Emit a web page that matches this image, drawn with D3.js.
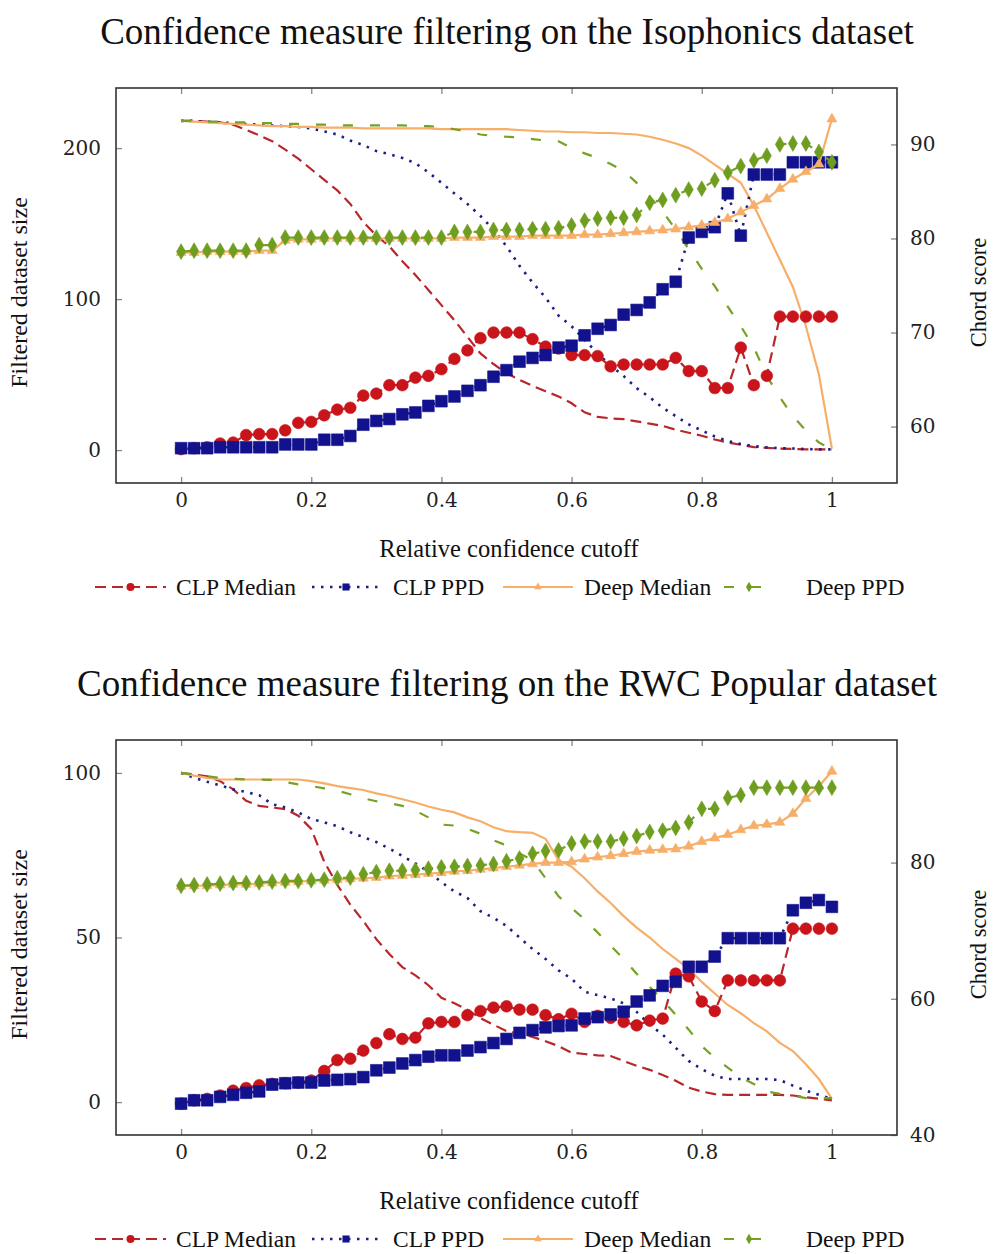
<!DOCTYPE html>
<html><head><meta charset="utf-8">
<script src="https://cdn.jsdelivr.net/npm/d3@7"></script>
<style>body{margin:0;background:#fff}svg{display:block}</style>
</head><body>
<svg id="c" width="994" height="1254"></svg>
<script>
// ---------- data ----------
const cutoffs = [0,0.02,0.04,0.06,0.08,0.1,0.12,0.14,0.16,0.18,0.2,0.22,0.24,0.26,0.28,0.3,0.32,0.34,0.36,0.38,0.4,0.42,0.44,0.46,0.48,0.5,0.52,0.54,0.56,0.58,0.6,0.62,0.64,0.66,0.68,0.7,0.72,0.74,0.76,0.78,0.8,0.82,0.84,0.86,0.88,0.9,0.92,0.94,0.96,0.98,1];
const xTickValues = [0,0.2,0.4,0.6,0.8,1];
const seriesNames = ["CLP Median","CLP PPD","Deep Median","Deep PPD"];
const titles = ["Confidence measure filtering on the Isophonics dataset","Confidence measure filtering on the RWC Popular dataset"];
const xLabel = "Relative confidence cutoff";
const yLeftLabel = "Filtered dataset size";
const yRightLabel = "Chord score";

// Isophonics: filtered dataset size (left axis)
const isoClpMedianSize = [218,218,217.5,217,215.5,212,208.5,204.6,199,193,186,179,172,163,151,142,135,125,116,106,96,86,75,64,57,51,46.5,42.5,39,35.5,31,25,22,21,20.5,19,17.5,16,13.5,11.5,9.5,7,5,3.5,2,1.5,1,0.8,0.5,0.5,0.5];
const isoClpPpdSize = [218,218,217.5,217,216.5,216,215.5,215,214.5,214,213,211,209,205,202,198,196,193.5,190,184,177,170,163,155,146,135,122,111,101,89,82,73,64,56,49,41,35,28,22.5,17,13,9,6,4,2.6,1.8,1.2,1,0.7,0.5,0.5];
const isoDeepMedianSize = [218,217.5,217,216.5,216,215.5,215,214.5,214.5,214,214,213.5,213.5,213.5,213,213,213,213,213,213,212.5,212.5,212.5,212.5,212.5,212.5,212,211.5,211,211,210.5,210.5,210,210,209.5,209,207.5,205.5,203,200,195,189,183,177,162,144,126,108,82,50,1];
const isoDeepPpdSize = [218,218,217.5,217.5,217,217,216.5,216.5,216,216,215.5,215.5,215,215,215,215,215,215,214.5,214.5,214,212.5,211,209,208,207.5,207,206,205,204.5,200,196.5,193.5,189.5,185,177,168,158,146,133,120,108.6,95,82,68,49,35,22.5,13,5,0.5];
// Isophonics: chord score (right axis)
const isoClpMedianScore = [57.6,57.7,57.8,58.2,58.3,59.1,59.2,59.2,59.6,60.4,60.5,61.2,61.8,62.0,63.3,63.5,64.4,64.4,65.2,65.4,66.1,67.2,68.1,69.4,70.0,70.0,70.0,69.3,68.5,68.3,67.6,67.6,67.5,66.4,66.6,66.6,66.6,66.6,67.3,65.9,65.9,64.1,64.1,68.4,64.4,65.4,71.7,71.7,71.7,71.7,71.7];
const isoClpPpdScore = [57.7,57.7,57.7,57.8,57.8,57.8,57.8,57.8,58.1,58.1,58.1,58.6,58.6,59.0,60.2,60.6,60.8,61.3,61.5,62.2,62.7,63.2,63.8,64.4,65.3,66.0,66.9,67.3,67.6,68.4,68.6,69.7,70.4,70.8,71.9,72.4,73.2,74.6,75.4,80.1,80.7,81.2,84.8,80.3,86.8,86.8,86.8,88.1,88.1,88.1,88.1];
const isoDeepMedianScore = [78.5,78.5,78.6,78.6,78.6,78.6,78.7,78.7,79.8,79.9,79.9,80.0,80.0,80.0,80.0,80.0,80.0,80.0,80.0,80.0,80.0,80.1,80.1,80.1,80.2,80.2,80.2,80.3,80.3,80.3,80.3,80.4,80.4,80.5,80.6,80.7,80.8,80.9,81.0,81.2,81.4,81.7,82.1,82.8,83.5,84.2,85.3,86.3,87.1,87.9,92.7];
const isoDeepPpdScore = [78.6,78.7,78.7,78.7,78.7,78.7,79.3,79.3,80.1,80.1,80.1,80.1,80.1,80.1,80.1,80.1,80.1,80.1,80.1,80.1,80.1,80.7,80.7,80.7,80.9,80.9,80.9,81.0,81.0,81.1,81.4,81.9,82.1,82.2,82.2,82.5,83.8,84.1,84.6,85.2,85.3,86.2,87.0,87.7,88.3,88.8,90.0,90.1,90.1,89.2,88.1];

// RWC Popular: filtered dataset size (left axis)
const rwcClpMedianSize = [100,99.5,99,97.5,95,91.5,90,89.5,89,87,83,73,66,60,55,49.5,45,41,38.5,35.5,31.7,30,28,25.5,23.5,21.6,20.8,19.8,18.5,17,15,14.6,14.2,14,12.5,11,9.8,8.2,6.5,4.4,3.2,2.4,2.2,2.2,2.2,2.2,2.2,2,1.5,1,0.5];
const rwcClpPpdSize = [100,98.5,97.3,96.2,95,94.2,93.2,90.5,89.5,88,86,85,83.8,82,80.5,79,77,74.8,72.5,70,66.8,64,62,58,56,53.5,50,46.5,43.5,40,37.5,33.5,32.5,31.5,30,27.4,23.5,20.5,16.5,12.5,10,8,7,7,7,7,6.7,5,3.5,2.2,1];
const rwcDeepMedianSize = [100,99.2,98.5,98,98,98,98,98,98,98,97.5,96.8,96,95.4,94.8,93.8,93,92,91,89.8,88.8,88,86.5,85.3,83.5,82.3,82,81.8,80,73.5,71.5,68,64,60.5,56.5,53,50,46.5,43.5,40.5,36.5,33,29.5,27,24,21.5,18,15.5,11.5,7,1];
const rwcDeepPpdSize = [100,99.5,99,98.5,98.2,98,98,97.9,97.2,96.5,96,95.3,94.6,93.5,92.3,91.4,90.8,90,88.5,86.5,84.3,84,83,81.5,79.5,78,75.5,73.5,68,62.5,59,55.5,51.5,47.5,43.5,39,35,31,26.5,22,17,13.5,10.5,7.5,5.5,3.2,2.5,2,1.2,1.2,1.2];
// RWC Popular: chord score (right axis)
const rwcClpMedianScore = [44.6,45.1,45.3,45.8,46.5,46.9,47.3,47.5,47.6,47.7,48.0,49.4,51.0,51.2,52.4,53.5,54.8,54.1,54.3,56.4,56.6,56.6,57.6,58.2,58.7,58.9,58.4,58.4,57.6,57.0,57.8,56.6,57.5,57.2,56.6,56.1,56.8,57.1,63.7,63.3,59.6,58.2,62.7,62.7,62.7,62.7,62.7,70.3,70.3,70.3,70.3];
const rwcClpPpdScore = [44.6,45.1,45.1,45.6,45.9,46.2,46.4,47.4,47.6,47.7,47.7,48.0,48.1,48.2,48.5,49.5,49.9,50.5,51.0,51.5,51.7,51.7,52.4,52.9,53.5,54.1,55.0,55.4,55.8,56.0,56.1,57.1,57.3,57.7,58.1,59.6,60.5,61.9,62.5,64.7,64.7,66.2,68.9,68.9,68.9,68.9,68.9,73.0,74.1,74.5,73.5];
const rwcDeepMedianScore = [76.5,76.6,76.6,76.7,76.8,76.8,76.9,77.0,77.1,77.2,77.3,77.4,77.5,77.6,77.7,77.8,78.0,78.1,78.2,78.4,78.5,78.7,78.8,79.0,79.2,79.4,79.6,79.8,80.0,80.0,80.1,80.5,80.8,81.0,81.3,81.6,81.8,81.9,82.0,82.4,83.1,83.6,84.1,84.8,85.4,85.6,85.9,87.2,89.4,91.2,93.4];
const rwcDeepPpdScore = [76.6,76.7,76.8,76.9,77.0,77.0,77.1,77.2,77.3,77.3,77.4,77.5,77.7,77.8,78.3,78.6,78.8,78.8,78.9,79.1,79.3,79.4,79.5,79.6,79.8,80.2,80.6,81.3,81.7,81.8,82.8,83.1,83.1,83.1,83.5,83.9,84.5,84.7,85.1,85.9,87.9,87.9,89.5,89.9,91.0,91.0,91.0,91.0,91.0,91.0,91.0];

const isoLeftTicks = [0,100,200];
const isoRightTicks = [60,70,80,90];
const rwcLeftTicks = [0,50,100];
const rwcRightTicks = [40,60,80];

// ---------- styles ----------
const styles = [
  {line:"#b8272c", mark:"#c8141a", dash:"11,6", width:2.2, sym:d3.symbolCircle, size:108, lsize:50},
  {line:"#1e1e86", mark:"#12128f", dash:"2.5,6.5", width:2.6, sym:d3.symbolSquare, size:138, lsize:50},
  {line:"#f6ae68", mark:"#f6ae68", dash:null, width:2.2, sym:d3.symbolTriangle, size:44, lsize:26},
  {line:"#76a125", mark:"#6f9d1f", dash:"10,17", width:2.2, sym:d3.symbolDiamond, size:72, lsize:32}
];

const svg = d3.select("#c");
const serif = "'Liberation Serif','Times New Roman',serif";
const tickFont = "'DejaVu Serif',serif";

function panel(cfg) {
  const X0 = 116, X1 = 897;
  const x = d3.scaleLinear().domain([-0.1, 1.1]).range([X0, X1]);
  const yL = d3.scaleLinear().domain(cfg.leftDomain).range([cfg.y1, cfg.y0]);
  const yR = d3.scaleLinear().domain(cfg.rightDomain).range([cfg.y1, cfg.y0]);
  const g = svg.append("g");

  g.append("text").attr("x", 507).attr("y", cfg.titleY)
    .attr("text-anchor", "middle").attr("font-family", serif).attr("font-size", 37)
    .attr("fill", "#111").text(cfg.title);

  const plot = g.append("g");
  // size lines (left axis)
  cfg.sizes.forEach((arr, k) => {
    const st = styles[k];
    const line = d3.line().x((d, i) => x(cutoffs[i])).y(d => yL(d));
    plot.append("path").attr("d", line(arr)).attr("fill", "none")
      .attr("stroke", st.line).attr("stroke-width", st.width)
      .attr("stroke-dasharray", st.dash);
  });
  // score series (right axis) with markers
  cfg.scores.forEach((arr, k) => {
    const st = styles[k];
    const line = d3.line().x((d, i) => x(cutoffs[i])).y(d => yR(d));
    plot.append("path").attr("d", line(arr)).attr("fill", "none")
      .attr("stroke", st.line).attr("stroke-width", st.width)
      .attr("stroke-dasharray", st.dash);
    const sym = d3.symbol().type(st.sym).size(st.size);
    plot.append("g").selectAll("path").data(arr).join("path")
      .attr("transform", (d, i) => `translate(${x(cutoffs[i])},${yR(d)})`)
      .attr("d", sym).attr("fill", st.mark).attr("stroke", st.mark).attr("stroke-width", 0.6);
  });

  // axes
  const fmt = d3.format("~g");
  const ax = g.append("g").attr("transform", `translate(0,${cfg.y1})`)
    .call(d3.axisBottom(x).tickValues(xTickValues).tickSize(-6).tickPadding(10).tickFormat(fmt));
  const axT = g.append("g").attr("transform", `translate(0,${cfg.y0})`)
    .call(d3.axisTop(x).tickValues(xTickValues).tickSize(-6).tickFormat(""));
  const ayL = g.append("g").attr("transform", `translate(${X0},0)`)
    .call(d3.axisLeft(yL).tickValues(cfg.leftTicks).tickSize(-6).tickPadding(15).tickFormat(fmt));
  const ayR = g.append("g").attr("transform", `translate(${X1},0)`)
    .call(d3.axisRight(yR).tickValues(cfg.rightTicks).tickSize(-6).tickPadding(13).tickFormat(fmt));
  [ax, axT, ayL, ayR].forEach(a => {
    a.select(".domain").remove();
    a.selectAll(".tick line").attr("stroke", "#888").attr("stroke-width", 1.3);
    a.selectAll(".tick text").attr("font-family", tickFont).attr("font-size", 20).attr("fill", "#222");
  });

  g.append("rect").attr("x", X0).attr("y", cfg.y0).attr("width", X1 - X0).attr("height", cfg.y1 - cfg.y0)
    .attr("fill", "none").attr("stroke", "#333").attr("stroke-width", 1.6);

  // axis titles
  g.append("text").attr("x", 509).attr("y", cfg.y1 + 74).attr("text-anchor", "middle")
    .attr("font-family", serif).attr("font-size", 24.5).attr("fill", "#111").text(xLabel);
  const cy = (cfg.y0 + cfg.y1) / 2 + 7;
  g.append("text").attr("transform", `translate(27,${cy}) rotate(-90)`).attr("text-anchor", "middle")
    .attr("font-family", serif).attr("font-size", 24).attr("fill", "#111").text(yLeftLabel);
  g.append("text").attr("transform", `translate(986,${cy}) rotate(-90)`).attr("text-anchor", "middle")
    .attr("font-family", serif).attr("font-size", 22.5).attr("fill", "#111").text(yRightLabel);

  // legend
  const ly = cfg.y1 + 104;
  const entries = [
    {x0: 95, x1: 166, tx: 176},
    {x0: 312, x1: 380, tx: 393},
    {x0: 503, x1: 573, tx: 584},
    {x0: 724, x1: 774, tx: 806}
  ];
  entries.forEach((e, k) => {
    const st = styles[k];
    g.append("line").attr("x1", e.x0).attr("x2", e.x1).attr("y1", ly).attr("y2", ly)
      .attr("stroke", st.line).attr("stroke-width", st.width).attr("stroke-dasharray", st.dash);
    g.append("path").attr("transform", `translate(${(e.x0 + e.x1) / 2},${ly})`)
      .attr("d", d3.symbol().type(st.sym).size(st.lsize)).attr("fill", st.mark);
    g.append("text").attr("x", e.tx).attr("y", ly + 8).attr("font-family", serif).attr("font-size", 23.5)
      .attr("fill", "#111").text(seriesNames[k]);
  });
}

panel({
  title: titles[0], titleY: 44, y0: 88, y1: 483,
  leftDomain: [-21.8, 239.8], rightDomain: [54, 96],
  leftTicks: isoLeftTicks, rightTicks: isoRightTicks,
  sizes: [isoClpMedianSize, isoClpPpdSize, isoDeepMedianSize, isoDeepPpdSize],
  scores: [isoClpMedianScore, isoClpPpdScore, isoDeepMedianScore, isoDeepPpdScore]
});
panel({
  title: titles[1], titleY: 696, y0: 740, y1: 1135,
  leftDomain: [-10, 110], rightDomain: [40, 98],
  leftTicks: rwcLeftTicks, rightTicks: rwcRightTicks,
  sizes: [rwcClpMedianSize, rwcClpPpdSize, rwcDeepMedianSize, rwcDeepPpdSize],
  scores: [rwcClpMedianScore, rwcClpPpdScore, rwcDeepMedianScore, rwcDeepPpdScore]
});
</script>
</body></html>
